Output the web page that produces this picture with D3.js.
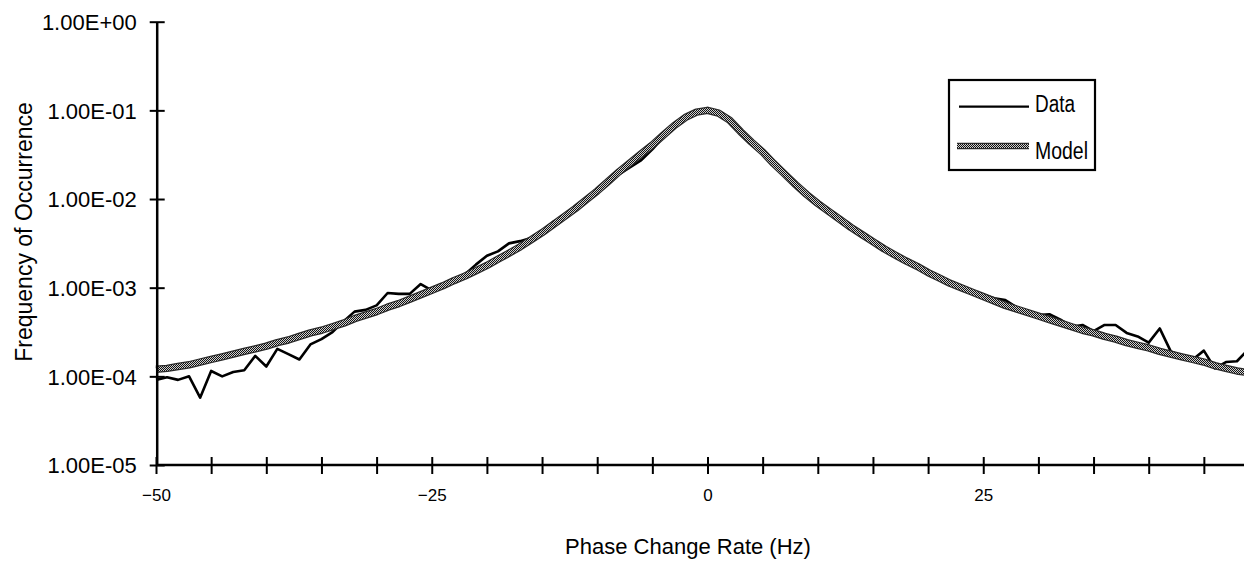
<!DOCTYPE html>
<html>
<head>
<meta charset="utf-8">
<script src="https://cdn.jsdelivr.net/npm/d3@7"></script>
<style>
  body { margin: 0; background: #fff; }
  svg { display: block; font-family: "Liberation Sans", Arial, Helvetica, sans-serif; }
  .domain { stroke: #000; stroke-width: 2.5; }
  .tick line { stroke: #000; stroke-width: 2; }
</style>
</head>
<body>
<div id="chart"></div>
<script>
// x categories: phase change rate in Hz, one per bin
var phaseRate = d3.range(-50, 50);

var dataFreq = [
  9.12e-5, 9.77e-5, 9.12e-5, 1.00e-4, 5.75e-5, 1.15e-4, 1.00e-4, 1.12e-4, 1.17e-4, 1.70e-4,
  1.29e-4, 2.04e-4, 1.78e-4, 1.55e-4, 2.29e-4, 2.63e-4, 3.16e-4, 4.17e-4, 5.37e-4, 5.62e-4,
  6.31e-4, 8.71e-4, 8.51e-4, 8.51e-4, 1.10e-3, 9.33e-4, 1.05e-3, 1.23e-3, 1.41e-3, 1.82e-3,
  2.29e-3, 2.57e-3, 3.16e-3, 3.35e-3, 3.63e-3, 4.37e-3, 5.50e-3, 6.31e-3, 7.94e-3, 9.77e-3,
  1.20e-2, 1.51e-2, 1.91e-2, 2.29e-2, 2.75e-2, 3.63e-2, 5.01e-2, 6.76e-2, 8.51e-2, 9.77e-2,
  1.00e-1, 9.33e-2, 7.94e-2, 6.03e-2, 4.57e-2, 3.47e-2, 2.63e-2, 1.95e-2, 1.48e-2, 1.15e-2,
  9.12e-3, 7.59e-3, 6.03e-3, 5.01e-3, 4.17e-3, 3.39e-3, 2.82e-3, 2.45e-3, 2.00e-3, 1.74e-3,
  1.48e-3, 1.29e-3, 1.17e-3, 1.02e-3, 9.12e-4, 8.32e-4, 7.59e-4, 7.24e-4, 6.03e-4, 5.37e-4,
  4.90e-4, 5.01e-4, 4.37e-4, 3.63e-4, 3.80e-4, 3.24e-4, 3.80e-4, 3.80e-4, 3.09e-4, 2.82e-4,
  2.40e-4, 3.47e-4, 1.91e-4, 1.70e-4, 1.55e-4, 1.95e-4, 1.23e-4, 1.45e-4, 1.48e-4, 2.00e-4
];

// model curve
var modelFreq = [
  1.20e-4, 1.23e-4, 1.29e-4, 1.35e-4, 1.45e-4, 1.55e-4, 1.66e-4, 1.78e-4, 1.91e-4, 2.04e-4,
  2.19e-4, 2.40e-4, 2.57e-4, 2.82e-4, 3.09e-4, 3.31e-4, 3.63e-4, 3.98e-4, 4.47e-4, 4.90e-4,
  5.37e-4, 6.03e-4, 6.61e-4, 7.41e-4, 8.32e-4, 9.33e-4, 1.05e-3, 1.20e-3, 1.35e-3, 1.55e-3,
  1.78e-3, 2.09e-3, 2.45e-3, 2.88e-3, 3.47e-3, 4.17e-3, 5.13e-3, 6.31e-3, 7.76e-3, 9.77e-3,
  1.23e-2, 1.58e-2, 2.04e-2, 2.57e-2, 3.24e-2, 4.07e-2, 5.25e-2, 6.76e-2, 8.32e-2, 9.55e-2,
  1.00e-1, 9.33e-2, 7.76e-2, 5.75e-2, 4.37e-2, 3.39e-2, 2.51e-2, 1.91e-2, 1.45e-2, 1.12e-2,
  8.91e-3, 7.24e-3, 5.89e-3, 4.79e-3, 3.98e-3, 3.31e-3, 2.75e-3, 2.34e-3, 2.00e-3, 1.74e-3,
  1.48e-3, 1.29e-3, 1.12e-3, 1.00e-3, 8.91e-4, 7.94e-4, 7.08e-4, 6.31e-4, 5.75e-4, 5.25e-4,
  4.79e-4, 4.37e-4, 3.98e-4, 3.63e-4, 3.31e-4, 3.09e-4, 2.82e-4, 2.63e-4, 2.40e-4, 2.24e-4,
  2.09e-4, 1.91e-4, 1.78e-4, 1.66e-4, 1.55e-4, 1.45e-4, 1.32e-4, 1.23e-4, 1.15e-4, 1.10e-4
];

var xTicks = [-50, -45, -40, -35, -30, -25, -20, -15, -10, -5, 0, 5, 10, 15, 20, 25, 30, 35, 40, 45];
var xLabels = [-50, -25, 0, 25];
var yTicks = [1e-5, 1e-4, 1e-3, 1e-2, 1e-1, 1];
var seriesNames = ["Data", "Model"];

var svgWidth = 1244;
var svgHeight = 561;

var svg = d3.select("#chart")
  .append("svg")
  .attr("width", svgWidth)
  .attr("height", svgHeight);

// halftone fill for the model line
var pat = svg.append("defs").append("pattern")
  .attr("id", "halftone")
  .attr("width", 2)
  .attr("height", 2)
  .attr("patternUnits", "userSpaceOnUse");
pat.append("rect").attr("width", 2).attr("height", 2).attr("fill", "#d0d0d0");
pat.append("rect").attr("width", 1).attr("height", 1).attr("fill", "#111");
pat.append("rect").attr("x", 1).attr("y", 1).attr("width", 1).attr("height", 1).attr("fill", "#111");

// Scales
var xScale = d3.scaleLinear()
  .domain([-50, 50])
  .range([156, 1259]);

var yScale = d3.scaleLog()
  .domain([1e-5, 1])
  .range([465, 21.7]);

var fmtE = function(v) {
  var e = Math.round(Math.log10(v));
  return "1.00E" + (e < 0 ? "-" : "+") + (Math.abs(e) < 10 ? "0" : "") + Math.abs(e);
};

// Lines (model sits on top of data, like the original)
var dataLine = d3.line()
  .x((d, i) => xScale(phaseRate[i]))
  .y(d => yScale(d));

svg.append("path")
  .datum(dataFreq)
  .attr("d", dataLine)
  .attr("fill", "none")
  .attr("stroke", "#000")
  .attr("stroke-width", 2.6)
  .attr("stroke-linejoin", "round");

svg.append("path")
  .datum(modelFreq)
  .attr("d", dataLine)
  .attr("fill", "none")
  .attr("stroke", "#2a2a2a")
  .attr("stroke-width", 7.5)
  .attr("stroke-linejoin", "round");

svg.append("path")
  .datum(modelFreq)
  .attr("d", dataLine)
  .attr("fill", "none")
  .attr("stroke", "url(#halftone)")
  .attr("stroke-width", 5)
  .attr("stroke-linejoin", "round");

// Axes
var xAxis = svg.append("g")
  .attr("transform", "translate(0, 465)")
  .call(d3.axisBottom(xScale)
    .tickValues(xTicks)
    .tickSizeOuter(0)
    .tickFormat(d => xLabels.indexOf(d) >= 0 ? d3.format("")(d) : ""));

xAxis.select(".domain").attr("d", "M156,0H1244");
xAxis.selectAll(".tick line").attr("y1", -8).attr("y2", 9);
xAxis.selectAll(".tick text")
  .attr("y", 24)
  .attr("dy", "0.71em")
  .style("font-size", "17px")
  .style("fill", "#000");

var yAxis = svg.append("g")
  .attr("transform", "translate(156.7, 0)")
  .call(d3.axisLeft(yScale)
    .tickValues(yTicks)
    .tickSizeOuter(0)
    .tickFormat(fmtE));

yAxis.selectAll(".tick line").attr("x1", 8).attr("x2", -7);
yAxis.selectAll(".tick text")
  .attr("x", -20)
  .attr("dy", "0.35em")
  .style("font-size", "22px")
  .style("fill", "#000");

// Axis titles
svg.append("text")
  .attr("x", 688)
  .attr("y", 554)
  .attr("text-anchor", "middle")
  .style("font-size", "22px")
  .text("Phase Change Rate (Hz)");

svg.append("text")
  .attr("transform", "translate(32, 232) rotate(-90)")
  .attr("text-anchor", "middle")
  .style("font-size", "23px")
  .text("Frequency of Occurrence");

// Legend
var legend = svg.append("g");
legend.append("rect")
  .attr("x", 949)
  .attr("y", 80)
  .attr("width", 146)
  .attr("height", 90)
  .attr("fill", "#fff")
  .attr("stroke", "#000")
  .attr("stroke-width", 2.2);

legend.append("line")
  .attr("x1", 959).attr("x2", 1029)
  .attr("y1", 106.7).attr("y2", 106.7)
  .attr("stroke", "#000")
  .attr("stroke-width", 2.2);

legend.append("line")
  .attr("x1", 957).attr("x2", 1029)
  .attr("y1", 146).attr("y2", 146)
  .attr("stroke", "#2a2a2a")
  .attr("stroke-width", 6.5);
legend.append("line")
  .attr("x1", 957).attr("x2", 1029)
  .attr("y1", 146).attr("y2", 146)
  .attr("stroke", "url(#halftone)")
  .attr("stroke-width", 4);

legend.selectAll(".legText")
  .data(seriesNames)
  .enter()
  .append("text")
  .attr("class", "legText")
  .attr("x", 1035)
  .attr("y", (d, i) => 112 + i * 46.5)
  .attr("textLength", (d, i) => i === 0 ? 40 : 53)
  .attr("lengthAdjust", "spacingAndGlyphs")
  .style("font-size", "23px")
  .text(d => d);
</script>
</body>
</html>
